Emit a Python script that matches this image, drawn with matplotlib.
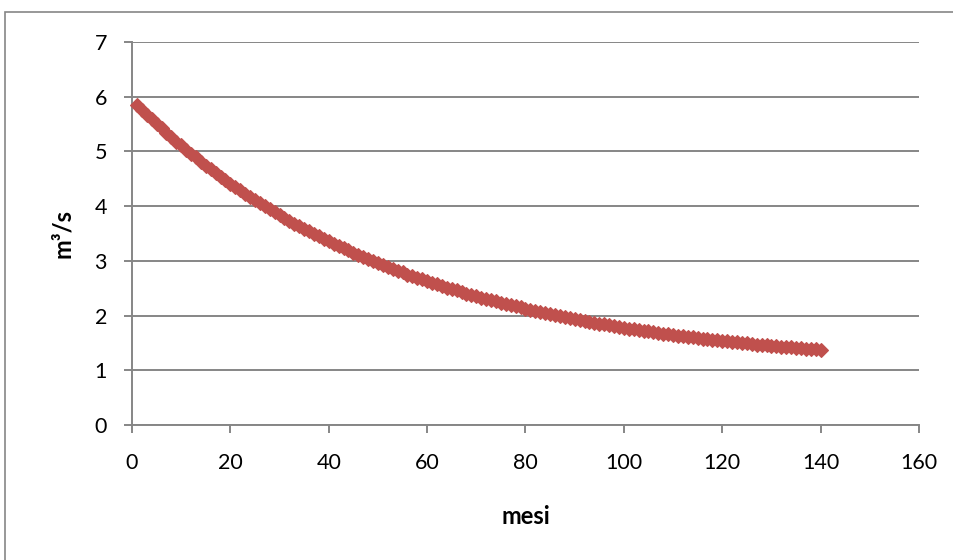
import matplotlib
matplotlib.use("Agg")
import matplotlib.pyplot as plt
from matplotlib.patches import Rectangle

plt.rcParams['font.family'] = ['Lato', 'DejaVu Sans']

# portata (m3/s) per mese
mesi = list(range(1, 141))
portata = [
    5.85, 5.76, 5.67, 5.59, 5.50, 5.42, 5.34, 5.26, 5.18, 5.11,
    5.03, 4.96, 4.89, 4.81, 4.74, 4.68, 4.61, 4.54, 4.48, 4.41,
    4.35, 4.29, 4.23, 4.17, 4.11, 4.05, 4.00, 3.94, 3.89, 3.84,
    3.78, 3.73, 3.68, 3.63, 3.59, 3.54, 3.49, 3.45, 3.40, 3.36,
    3.31, 3.27, 3.23, 3.19, 3.15, 3.11, 3.07, 3.03, 3.00, 2.96,
    2.92, 2.89, 2.85, 2.82, 2.79, 2.75, 2.72, 2.69, 2.66, 2.63,
    2.60, 2.57, 2.54, 2.51, 2.48, 2.46, 2.43, 2.40, 2.38, 2.35,
    2.33, 2.30, 2.28, 2.26, 2.23, 2.21, 2.19, 2.17, 2.15, 2.12,
    2.10, 2.08, 2.06, 2.04, 2.03, 2.01, 1.99, 1.97, 1.95, 1.94,
    1.92, 1.90, 1.88, 1.87, 1.85, 1.84, 1.82, 1.81, 1.79, 1.78,
    1.76, 1.75, 1.74, 1.72, 1.71, 1.70, 1.68, 1.67, 1.66, 1.65,
    1.63, 1.62, 1.61, 1.60, 1.59, 1.58, 1.57, 1.56, 1.55, 1.54,
    1.53, 1.52, 1.51, 1.50, 1.49, 1.48, 1.47, 1.46, 1.46, 1.45,
    1.44, 1.43, 1.42, 1.42, 1.41, 1.40, 1.39, 1.39, 1.38, 1.37,
]
xticks = [0, 20, 40, 60, 80, 100, 120, 140, 160]
yticks = [0, 1, 2, 3, 4, 5, 6, 7]

grey = '#868686'

fig = plt.figure(figsize=(9.54, 5.60), dpi=100)
# chart frame (right and bottom edges fall outside the image)
fig.patches.append(Rectangle((5 / 954, -0.05), 1.0, 1 - 12 / 560 + 0.05,
                             transform=fig.transFigure, fill=False,
                             edgecolor=grey, linewidth=1.2))

ax = fig.add_axes([132 / 954, 1 - 425 / 560, (919 - 132) / 954, (425 - 42) / 560])
ax.plot(mesi, portata, linestyle='none', marker='D', markersize=7.3,
        color='#C0504D', markeredgecolor='#C0504D', markeredgewidth=0.8,
        clip_on=False, zorder=3)

ax.set_xlim(0, 160)
ax.set_ylim(0, 7)
ax.set_xticks(xticks)
ax.set_yticks(yticks)
ax.grid(axis='y', color=grey, linewidth=1.4)
ax.set_axisbelow(True)
for s in ['top', 'right']:
    ax.spines[s].set_visible(False)
for s in ['left', 'bottom']:
    ax.spines[s].set_color(grey)
    ax.spines[s].set_linewidth(1.4)
ax.tick_params(axis='x', direction='out', length=6, width=1.4, color=grey,
               labelsize=15.5, pad=14)
ax.tick_params(axis='y', direction='out', length=6, width=1.4, color=grey,
               labelsize=15.5, pad=12)

ax.set_xlabel('mesi', fontsize=17, fontweight='bold', labelpad=23)
ax.set_ylabel('m³/s', fontsize=17, fontweight='bold', labelpad=15)

plt.savefig('out.png', dpi=100)
